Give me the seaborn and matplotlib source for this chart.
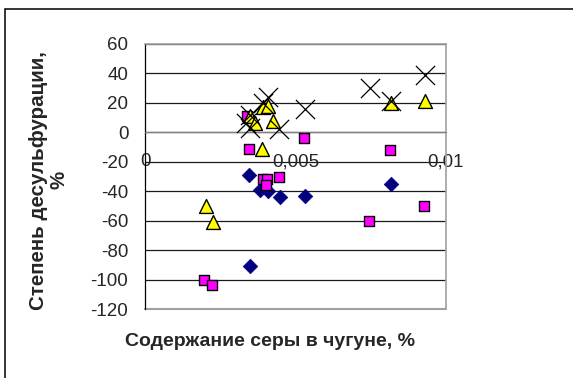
import matplotlib
matplotlib.use("Agg")
import matplotlib.pyplot as plt
from matplotlib.patches import Rectangle
import seaborn as sns
import pandas as pd

# Sulfur content in hot metal (%) vs. desulfurization degree (%), four series
s1_x = [0.00347, 0.00382, 0.0041, 0.00449, 0.00532, 0.00349, 0.00817]
s1_y = [-29, -39, -40, -44, -43, -91, -35]

s2_x = [0.00197, 0.00224, 0.00393, 0.00404, 0.00402, 0.00446, 0.00347,
        0.00528, 0.00814, 0.00927, 0.00745, 0.00338]
s2_y = [-100, -104, -32, -32, -36, -30, -11, -4, -12, -50, -60, 11]

s3_x = [0.00203, 0.00227, 0.00388, 0.00349, 0.00365, 0.00393, 0.0041,
        0.00424, 0.00817, 0.0093]
s3_y = [-50, -61, -11, 11, 6, 17, 18, 8, 20, 21]

s4_x = [0.00336, 0.0035, 0.00391, 0.00407, 0.00446, 0.00532, 0.00748,
        0.00816, 0.0093, 0.0035]
s4_y = [6, 12, 20, 24, 2, 16, 30, 21, 39, 3]

x_ticks = [0, 0.005, 0.01]
x_tick_labels = ["0", "0,005", "0,01"]
y_ticks = list(range(-120, 61, 20))

sns.set_style("white")
plt.rcParams["font.family"] = ["Liberation Sans", "DejaVu Sans"]

W, H = 573, 378
fig = plt.figure(figsize=(W / 100, H / 100), dpi=100)
ax = fig.add_axes([145 / W, 1 - 309 / H, (446 - 145) / W, (309 - 44) / H])

ax.set_xlim(0, 0.01)
ax.set_ylim(-120, 60)

# horizontal gridlines
for yv in y_ticks:
    ax.axhline(yv, color="#1a1a1a", lw=0.9, zorder=0)

df1 = pd.DataFrame({"x": s1_x, "y": s1_y})
df2 = pd.DataFrame({"x": s2_x, "y": s2_y})
df3 = pd.DataFrame({"x": s3_x, "y": s3_y})
df4 = pd.DataFrame({"x": s4_x, "y": s4_y})

sns.scatterplot(data=df1, x="x", y="y", ax=ax, marker="D", s=55,
                color="#000080", edgecolor="#000080", linewidth=0.5, zorder=3)
sns.scatterplot(data=df2, x="x", y="y", ax=ax, marker="s", s=62,
                color="#FF00FF", edgecolor="black", linewidth=1.0, zorder=4)
sns.scatterplot(data=df3, x="x", y="y", ax=ax, marker="^", s=100,
                color="#FFFF00", edgecolor="black", linewidth=1.0, zorder=5)
sns.scatterplot(data=df4, x="x", y="y", ax=ax, marker="x", s=190,
                color="black", linewidth=0.9, zorder=6)

ax.set_xlabel("")
ax.set_ylabel("")

# axes: vertical axis on the left, horizontal axis crossing at zero
for side in ["top", "right"]:
    ax.spines[side].set_color("#a0a0a0")
    ax.spines[side].set_linewidth(1.2)
ax.spines["left"].set_color("black")
ax.spines["left"].set_linewidth(0.9)
ax.spines["bottom"].set_position(("data", 0))
ax.spines["bottom"].set_color("#808080")
ax.spines["bottom"].set_linewidth(0.9)
# gray frame edge along the bottom of the plot area
ax.plot([0, 1], [0, 0], transform=ax.transAxes, color="#a0a0a0", lw=1.5,
        clip_on=False, zorder=1)

ax.set_xticks(x_ticks)
ax.set_xticklabels(x_tick_labels)
ax.set_yticks(y_ticks)
ax.set_yticklabels([str(v) for v in y_ticks])

ax.tick_params(axis="x", direction="out", length=4, width=0.9, color="black",
               labelsize=13.5, pad=11)
ax.tick_params(axis="y", direction="out", length=4, width=0.9, color="black",
               labelsize=13.5, pad=8)

fig.text(270 / W, 1 - 342 / H, "Содержание серы в чугуне, %", ha="center",
         va="center", fontsize=14, fontweight="bold")
fig.text(49 / W, 1 - 180 / H, "Степень десульфурации,\n%", ha="center",
         va="center", rotation=90, fontsize=14.8, fontweight="bold",
         multialignment="center", linespacing=1.1)

# outer chart frame
fig.add_artist(Rectangle((5 / W, -0.1), 1.2, (1 - 9 / H) + 0.1,
                         transform=fig.transFigure, fill=False,
                         edgecolor="black", lw=1.1))

fig.savefig("out.png", dpi=100)
